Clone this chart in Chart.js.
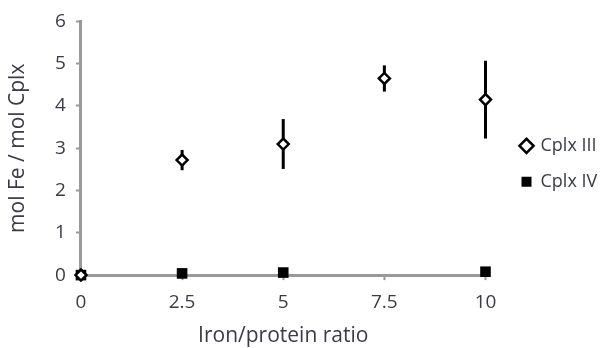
<!DOCTYPE html>
<html>
<head>
<meta charset="utf-8">
<script src="https://cdn.jsdelivr.net/npm/chart.js@4"></script>
<style>
  body { margin: 0; background: #fff; }
  #wrap { width: 612px; height: 348px; }
</style>
</head>
<body>
<div id="wrap"><canvas id="scatter-chart"></canvas></div>
<script>
const ratios = [0, 2.5, 5, 7.5, 10];
const cplx3 = [0, 2.72, 3.10, 4.65, 4.15];
const cplx3Err = [0, 0.24, 0.59, 0.31, 0.92];
const cplx4Ratios = [0, 2.5, 5, 10];
const cplx4 = [0, 0.04, 0.06, 0.08];

const axisGrey = '#999999';
const textColor = '#3a3a4a';
const fontFamily = 'Open Sans';

// draws the vertical error bars behind the diamonds
const errorBars = {
  id: 'errorBars',
  beforeDatasetsDraw(chart) {
    const { ctx, scales: { x, y } } = chart;
    ctx.save();
    ctx.strokeStyle = '#000';
    ctx.lineWidth = 3;
    ratios.forEach((r, i) => {
      if (!cplx3Err[i]) return;
      const px = x.getPixelForValue(r);
      ctx.beginPath();
      ctx.moveTo(px, y.getPixelForValue(cplx3[i] + cplx3Err[i]));
      ctx.lineTo(px, y.getPixelForValue(cplx3[i] - cplx3Err[i]));
      ctx.stroke();
    });
    ctx.restore();
  }
};

const ctx = document.getElementById('scatter-chart');

new Chart(ctx, {
  type: 'scatter',
  data: {
    datasets: [{
      label: 'Cplx III',
      data: ratios.map((r, i) => ({ x: r, y: cplx3[i] })),
      pointStyle: 'rectRot',
      pointRadius: 5.5,
      pointBackgroundColor: '#fff',
      pointBorderColor: '#000',
      pointBorderWidth: 2.5,
      backgroundColor: '#fff',
      borderColor: '#000',
      borderWidth: 3,
      clip: false,
      order: 1
    }, {
      label: 'Cplx IV',
      data: cplx4Ratios.map((r, i) => ({ x: r, y: cplx4[i] })),
      pointStyle: 'rect',
      pointRadius: 7.5,
      pointBackgroundColor: '#000',
      pointBorderColor: '#000',
      pointBorderWidth: 0,
      backgroundColor: '#000',
      borderColor: '#000',
      borderWidth: 0,
      clip: false,
      order: 2
    }]
  },
  options: {
    responsive: true,
    maintainAspectRatio: false,
    animation: false,
    layout: { padding: { top: 2, right: 9, bottom: 0, left: 6 } },
    plugins: {
      tooltip: { enabled: false },
      legend: {
        position: 'right',
        fullSize: false,
        title: { display: true, text: ' ', padding: 6, font: { family: fontFamily, size: 16 } },
        labels: {
          usePointStyle: true,
          boxWidth: 10,
          boxHeight: 10,
          padding: 18,
          color: textColor,
          font: { family: fontFamily, size: 18 }
        }
      }
    },
    scales: {
      x: {
        type: 'linear',
        min: 0,
        max: 10,
        border: { color: axisGrey, width: 3 },
        grid: { drawOnChartArea: false, drawTicks: true, tickLength: 5, tickColor: axisGrey, tickWidth: 2 },
        ticks: { stepSize: 2.5, color: textColor, font: { family: fontFamily, size: 19 }, padding: 11 },
        title: { display: true, text: 'Iron/protein ratio', color: textColor, font: { family: fontFamily, size: 21, lineHeight: 1.1 }, padding: { top: 0, bottom: 0 } }
      },
      y: {
        min: 0,
        max: 6,
        border: { color: axisGrey, width: 3 },
        grid: { drawOnChartArea: false, drawTicks: true, tickLength: 5, tickColor: axisGrey, tickWidth: 2 },
        ticks: { stepSize: 1, color: textColor, font: { family: fontFamily, size: 19 }, padding: 10 },
        title: { display: true, text: 'mol Fe / mol Cplx', color: textColor, font: { family: fontFamily, size: 21, lineHeight: 1.1 }, padding: { top: 0, bottom: 16 } }
      },
      // empty right-hand axis, only keeps a gap before the legend
      gap: {
        position: 'right',
        axis: 'y',
        display: true,
        ticks: { display: false },
        grid: { display: false },
        border: { display: false },
        afterFit(scale) { scale.width = 18; }
      }
    }
  },
  plugins: [errorBars]
});
</script>
</body>
</html>
